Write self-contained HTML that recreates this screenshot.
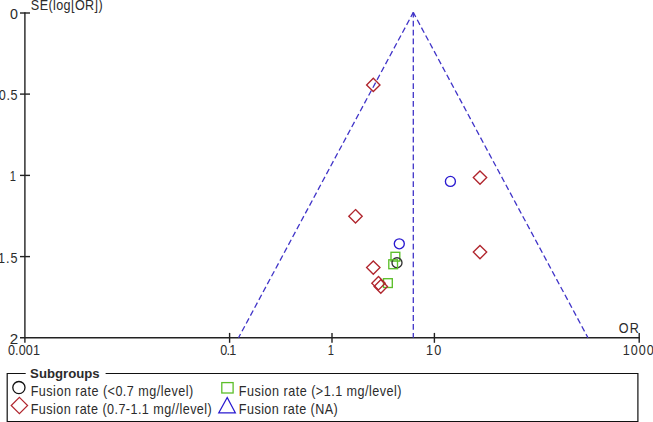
<!DOCTYPE html>
<html><head><meta charset="utf-8"><style>
html,body{margin:0;padding:0;background:#fff;}
body{width:653px;height:422px;overflow:hidden;}
svg{display:block;font-family:"Liberation Sans",sans-serif;}
text{fill:#2b2b2b;}
.lg{font-size:13.5px;}
</style></head><body>
<svg width="653" height="422" viewBox="0 0 653 422">
<!-- axes -->
<g stroke="#222" stroke-width="1.4" fill="none">
<line x1="24.9" y1="12.3" x2="24.9" y2="342.8"/>
<line x1="20" y1="337.75" x2="639.9" y2="337.75"/>
<line x1="20" y1="13" x2="30" y2="13"/>
<line x1="20" y1="94.1" x2="30" y2="94.1"/>
<line x1="20" y1="175.4" x2="30" y2="175.4"/>
<line x1="20" y1="256.6" x2="30" y2="256.6"/>
<line x1="229.6" y1="332.9" x2="229.6" y2="342.8"/>
<line x1="332" y1="332.9" x2="332" y2="342.8"/>
<line x1="434.4" y1="332.9" x2="434.4" y2="342.8"/>
<line x1="639.2" y1="332.9" x2="639.2" y2="342.8"/>
</g>
<!-- labels -->
<g font-size="14">
<text transform="translate(30.85 10.0) scale(0.9 1)" textLength="79.78" lengthAdjust="spacing">SE(log[OR])</text>
<text transform="translate(9.98 18.7) scale(0.9 1)" textLength="8.81" lengthAdjust="spacingAndGlyphs">0</text>
<text transform="translate(-1.27 100.2) scale(0.9 1)" textLength="20.91" lengthAdjust="spacing">0.5</text>
<text transform="translate(9.8 181.3) scale(0.9 1)" textLength="6.89" lengthAdjust="spacingAndGlyphs">1</text>
<text transform="translate(-2.01 262.9) scale(0.9 1)" textLength="21.76" lengthAdjust="spacing">1.5</text>
<text transform="translate(9.72 344.1) scale(0.9 1)" textLength="9.39" lengthAdjust="spacingAndGlyphs">2</text>
<text transform="translate(7.88 355.0) scale(0.9 1)" textLength="35.63" lengthAdjust="spacing">0.001</text>
<text transform="translate(220.17 355.0) scale(0.9 1)" textLength="17.91" lengthAdjust="spacing">0.1</text>
<text transform="translate(327.85 355.0) scale(0.9 1)" textLength="6.89" lengthAdjust="spacingAndGlyphs">1</text>
<text transform="translate(425.91 355.0) scale(0.9 1)" textLength="17.12" lengthAdjust="spacing">10</text>
<text transform="translate(622.71 355.0) scale(0.9 1)" textLength="34.39" lengthAdjust="spacing">1000</text>
<text transform="translate(618.63 332.7) scale(0.9 1)" textLength="22.6" lengthAdjust="spacing">OR</text>
</g>
<!-- funnel -->
<g stroke="#4034c8" stroke-width="1.3" fill="none" stroke-dasharray="5.8 3.12" stroke-dashoffset="0.6">
<line x1="413.3" y1="12.4" x2="413.3" y2="337.8"/>
<line x1="413.3" y1="12.4" x2="238.5" y2="337.8"/>
<line x1="413.3" y1="12.4" x2="588" y2="337.8"/>
</g>
<!-- markers -->
<g fill="none" stroke-width="1.35">
<g stroke="#5cbf2a">
<rect x="391" y="252.3" width="8.8" height="8.8"/>
</g>
<circle cx="397" cy="262.7" r="5" stroke="#333"/>
<g stroke="#5cbf2a">
<rect x="388.8" y="259.8" width="8.7" height="8.9"/>
<rect x="383.5" y="278.7" width="8.8" height="8.8"/>
</g>
<g stroke="#2a1ad0">
<circle cx="450.4" cy="181.4" r="5"/>
<circle cx="399.3" cy="243.8" r="5"/>
</g>
<g stroke="#b0252d">
<path d="M373.3 78.2 L380 84.9 L373.3 91.6 L366.6 84.9 Z"/>
<path d="M480 170.9 L486.7 177.6 L480 184.3 L473.3 177.6 Z"/>
<path d="M355.5 209.6 L362.2 216.3 L355.5 223 L348.8 216.3 Z"/>
<path d="M480 245.4 L486.7 252.1 L480 258.8 L473.3 252.1 Z"/>
<path d="M373.3 260.9 L380 267.6 L373.3 274.3 L366.6 267.6 Z"/>
<path d="M378.5 276.5 L385.2 283.2 L378.5 289.9 L371.8 283.2 Z"/>
<path d="M380.8 279.8 L387.5 286.5 L380.8 293.2 L374.1 286.5 Z"/>
</g>
</g>
<!-- legend -->
<path d="M25.7 373.5 H7.2 V421.5 H637.9 V373.5 H105.6" fill="none" stroke="#111" stroke-width="1.2"/>
<text x="30.09" y="378" font-size="13" font-weight="bold" textLength="69.63" lengthAdjust="spacingAndGlyphs">Subgroups</text>
<circle cx="18.9" cy="387.6" r="6.1" fill="none" stroke="#111" stroke-width="1.3"/>
<path d="M19.4 397.4 L27.6 405.5 L19.4 413.6 L11.2 405.5 Z" fill="none" stroke="#b0252d" stroke-width="1.2"/>
<rect x="221.8" y="382.6" width="11.3" height="10.4" fill="none" stroke="#5cbf2a" stroke-width="1.3"/>
<path d="M227.2 397.5 L235.3 412.8 L218.8 412.8 Z" fill="none" stroke="#2a1ad0" stroke-width="1.3"/>
<g font-size="14">
<text transform="translate(30.73 396.3) scale(0.9 1)" textLength="180.51" lengthAdjust="spacing">Fusion rate (&lt;0.7 mg/level)</text>
<text transform="translate(30.73 413.9) scale(0.9 1)" textLength="201.11" lengthAdjust="spacing">Fusion rate (0.7-1.1 mg//level)</text>
<text transform="translate(238.82 396.3) scale(0.9 1)" textLength="180.84" lengthAdjust="spacing">Fusion rate (&gt;1.1 mg/level)</text>
<text transform="translate(238.84 413.9) scale(0.9 1)" textLength="109.93" lengthAdjust="spacing">Fusion rate (NA)</text>
</g>
</svg>
</body></html>
